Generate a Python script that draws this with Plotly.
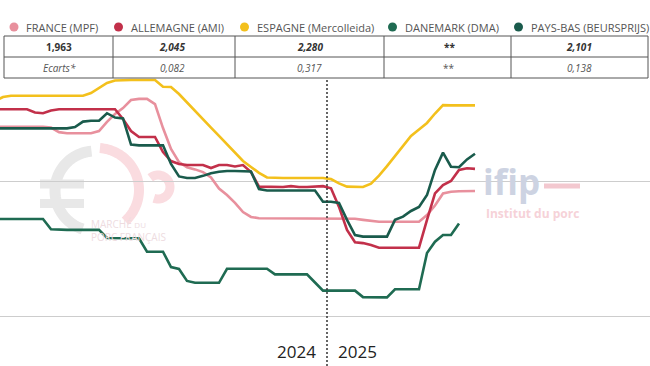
import numpy as np
import pandas as pd
import plotly.graph_objects as go

W, H, TOP = 650, 366, 78

# ---------------- data ----------------
weeks = pd.date_range("2024-03-16", periods=61, freq="7D")

france = [2.201, 2.201, 2.201, 2.201, 2.201, 2.201, 2.201, 2.198, 2.181, 2.177,
          2.177, 2.177, 2.177, 2.185, 2.219, 2.248, 2.270, 2.300, 2.304, 2.304,
          2.285, 2.196, 2.119, 2.070, 2.051, 2.043, 2.033, 2.013, 1.972, 1.948,
          1.919, 1.885, 1.867, 1.862, 1.862, 1.862, 1.862, 1.862, 1.862, 1.862,
          1.862, 1.862, 1.862, 1.862, 1.862, 1.860, 1.856, 1.852, 1.849, 1.849,
          1.849, 1.849, 1.849, 1.849, 1.874, 1.909, 1.954, 1.960, 1.962, 1.963,
          1.963]

allemagne = [2.266, 2.266, 2.266, 2.266, 2.266, 2.254, 2.251, 2.261, 2.266, 2.266,
             2.266, 2.266, 2.266, 2.266, 2.266, 2.266, 2.230, 2.185, 2.163, 2.163,
             2.163, 2.107, 2.074, 2.063, 2.059, 2.059, 2.059, 2.048, 2.059, 2.059,
             2.054, 2.059, 2.033, 1.979, 1.978, 1.978, 1.978, 1.981, 1.978, 1.978,
             1.979, 1.981, 1.973, 1.904, 1.819, 1.773, 1.770, 1.763, 1.753, 1.753,
             1.753, 1.753, 1.753, 1.753, 1.856, 1.954, 1.985, 2.000, 2.041, 2.047,
             2.045]

espagne = [2.296, 2.311, 2.316, 2.316, 2.316, 2.316, 2.316, 2.316, 2.316, 2.316,
           2.316, 2.316, 2.326, 2.344, 2.363, 2.372, 2.374, 2.374, 2.374, 2.374,
           2.374, 2.349, 2.348, 2.322, 2.290, 2.259, 2.230, 2.198, 2.167, 2.137,
           2.106, 2.074, 2.052, 2.030, 2.013, 2.011, 2.011, 2.011, 2.011, 2.011,
           2.011, 2.011, 2.007, 1.991, 1.979, 1.978, 1.978, 1.990, 2.020, 2.055,
           2.093, 2.130, 2.167, 2.191, 2.215, 2.250, 2.281, 2.280, 2.280, 2.280,
           2.280]

danemark = [1.859, 1.859, 1.859, 1.859, 1.859, 1.859, 1.859, 1.821, 1.819, 1.819,
            1.819, 1.819, 1.819, 1.819, 1.789, 1.788, 1.788, 1.788, 1.788, 1.738,
            1.738, 1.738, 1.681, 1.674, 1.630, 1.623, 1.623, 1.623, 1.623, 1.675,
            1.675, 1.675, 1.675, 1.675, 1.675, 1.654, 1.654, 1.654, 1.654, 1.654,
            1.624, 1.594, 1.594, 1.594, 1.594, 1.594, 1.570, 1.569, 1.569, 1.569,
            1.599, 1.599, 1.599, 1.599, 1.733, 1.775, 1.800, 1.800, 1.843]

pays_bas = [2.195, 2.195, 2.195, 2.195, 2.195, 2.195, 2.195, 2.195, 2.195, 2.195,
            2.200, 2.220, 2.223, 2.223, 2.251, 2.235, 2.232, 2.135, 2.132, 2.132,
            2.132, 2.132, 2.063, 2.017, 2.011, 2.011, 2.019, 2.029, 2.034, 2.037,
            2.037, 2.037, 2.035, 1.970, 1.965, 1.965, 1.965, 1.965, 1.965, 1.965,
            1.965, 1.923, 1.923, 1.919, 1.856, 1.800, 1.794, 1.794, 1.794, 1.794,
            1.856, 1.868, 1.889, 1.904, 1.948, 2.041, 2.105, 2.053, 2.051, 2.080,
            2.101]

series_names = ["FRANCE (MPF)", "ALLEMAGNE (AMI)", "ESPAGNE (Mercolleida)",
                "DANEMARK (DMA)", "PAYS-BAS (BEURSPRIJS)"]
series_values = [france, allemagne, espagne, danemark, pays_bas]
colors = ["#E8909D", "#C2304A", "#F3C01C", "#1F6B52", "#1A5B4C"]

row_prix = ["1,963", "2,045", "2,280", "**", "2,101"]
row_ecarts = ["Ecarts*", "0,082", "0,317", "**", "0,138"]
year_labels = ["2024", "2025"]

FONT = "Open Sans, sans-serif"


def px(x):
    return x / W


def py(y):
    return (H - y) / (H - TOP)


fig = go.Figure()
for name, vals, col in zip(series_names, series_values, colors):
    fig.add_trace(go.Scatter(x=weeks[:len(vals)], y=vals, mode="lines", name=name,
                             line=dict(color=col, width=2.6), hoverinfo="skip",
                             showlegend=False))

week = pd.Timedelta(days=7)
x_range = [weeks[0] + week * 0.625, weeks[0] + week * 81.875]
boundary = weeks[41] + (weeks[42] - weeks[41]) / 2

shapes = []
annotations = []


def arc_path(cx, cy, r, a0, a1, n=48):
    th = np.radians(np.linspace(a0, a1, n))
    xs = cx + r * np.cos(th)
    ys = cy - r * np.sin(th)
    return "M " + " L ".join(f"{px(a):.5f},{py(b):.5f}" for a, b in zip(xs, ys))


# watermark MPF logo
shapes.append(dict(type="path", xref="paper", yref="paper", layer="below",
                   path=arc_path(95, 191, 40, 95, 252),
                   line=dict(color="#E8E8E8", width=11)))
for yb in (184, 203.5):
    shapes.append(dict(type="line", xref="paper", yref="paper", layer="below",
                       x0=px(40), x1=px(84), y0=py(yb), y1=py(yb),
                       line=dict(color="#E8E8E8", width=9)))
shapes.append(dict(type="path", xref="paper", yref="paper", layer="below",
                   path=arc_path(97, 190, 42, 86, -48),
                   line=dict(color="#FADCE0", width=10)))
shapes.append(dict(type="path", xref="paper", yref="paper", layer="below",
                   path=arc_path(158, 187, 12, 130, -110),
                   line=dict(color="#FADCE0", width=9)))
annotations.append(dict(xref="paper", yref="paper", x=px(89), y=py(230), xanchor="left",
                        yanchor="middle", showarrow=False, align="left",
                        text="MARCHÉ <span style='font-size:8px'>DU</span><br>PORC FRANÇAIS",
                        font=dict(family=FONT, size=10, color="#EEDCDF")))

# watermark ifip
annotations.append(dict(xref="paper", yref="paper", x=px(481), y=py(181), xanchor="left",
                        yanchor="middle", showarrow=False, text="<b>ifip</b>",
                        font=dict(family=FONT, size=35, color="#CDD3E2")))
shapes.append(dict(type="line", xref="paper", yref="paper", layer="below",
                   x0=px(544), x1=px(580), y0=py(186), y1=py(186),
                   line=dict(color="#F3C8CF", width=5)))
annotations.append(dict(xref="paper", yref="paper", x=px(484), y=py(213), xanchor="left",
                        yanchor="middle", showarrow=False, text="<b>Institut du porc</b>",
                        font=dict(family=FONT, size=12, color="#F6D2D8")))

# year separator
shapes.append(dict(type="line", xref="x", yref="paper", x0=boundary, x1=boundary,
                   y0=0, y1=1, line=dict(color="#333333", width=1.5, dash="2px,2px")))
annotations.append(dict(xref="x", yref="paper", x=boundary, y=py(351.5), xanchor="right",
                        yanchor="middle", xshift=-9, showarrow=False, text=year_labels[0],
                        font=dict(family=FONT, size=17, color="#222222")))
annotations.append(dict(xref="x", yref="paper", x=boundary, y=py(351.5), xanchor="left",
                        yanchor="middle", xshift=9, showarrow=False, text=year_labels[1],
                        font=dict(family=FONT, size=17, color="#222222")))

# legend
dot_x = [14, 118.5, 244.5, 392.5, 518.5]
text_x = [24, 129, 255, 403, 529]
for name, col, dx, tx in zip(series_names, colors, dot_x, text_x):
    shapes.append(dict(type="circle", xref="paper", yref="paper",
                       x0=px(dx - 4.5), x1=px(dx + 4.5), y0=py(27 + 4.5), y1=py(27 - 4.5),
                       fillcolor=col, line=dict(width=0)))
    annotations.append(dict(xref="paper", yref="paper", x=px(tx), y=py(27), xanchor="left",
                            yanchor="middle", showarrow=False, text=name,
                            font=dict(family=FONT, size=11, color="#555555")))

# table
col_edges = [4, 113, 235, 384, 511, 648]
row_edges = [36, 57, 78]
for yy in row_edges:
    shapes.append(dict(type="line", xref="paper", yref="paper", x0=px(col_edges[0]),
                       x1=px(col_edges[-1]), y0=py(yy), y1=py(yy),
                       line=dict(color="#555555", width=1)))
for xx in col_edges:
    shapes.append(dict(type="line", xref="paper", yref="paper", x0=px(xx), x1=px(xx),
                       y0=py(row_edges[0]), y1=py(row_edges[-1]),
                       line=dict(color="#555555", width=1)))
centers = [59, 172, 309.5, 449, 579]
for i, (c, t1, t2) in enumerate(zip(centers, row_prix, row_ecarts)):
    txt1 = f"<b>{t1}</b>" if i == 0 or t1 == "**" else f"<b><i>{t1}</i></b>"
    annotations.append(dict(xref="paper", yref="paper", x=px(c), y=py(46.5), xanchor="center",
                            yanchor="middle", showarrow=False, text=txt1,
                            font=dict(family=FONT, size=10, color="#333333")))
    txt2 = t2 if t2 == "**" else f"<i>{t2}</i>"
    annotations.append(dict(xref="paper", yref="paper", x=px(c), y=py(67.5), xanchor="center",
                            yanchor="middle", showarrow=False, text=txt2,
                            font=dict(family=FONT, size=10, color="#555555")))

fig.update_layout(
    width=W, height=H,
    margin=dict(l=0, r=0, t=TOP, b=0),
    paper_bgcolor="white", plot_bgcolor="white",
    xaxis=dict(range=x_range, showgrid=False, showticklabels=False, zeroline=False,
               showline=False, ticks=""),
    yaxis=dict(range=[1.3148, 2.3815], dtick=0.5, tick0=0, showgrid=True,
               gridcolor="#CDCDCD", gridwidth=1, showticklabels=False, zeroline=False,
               showline=False, ticks=""),
    shapes=shapes, annotations=annotations,
    font=dict(family=FONT),
)

fig.write_html("out.html", config={"displayModeBar": False},
               post_script="document.body.style.margin='0';")
